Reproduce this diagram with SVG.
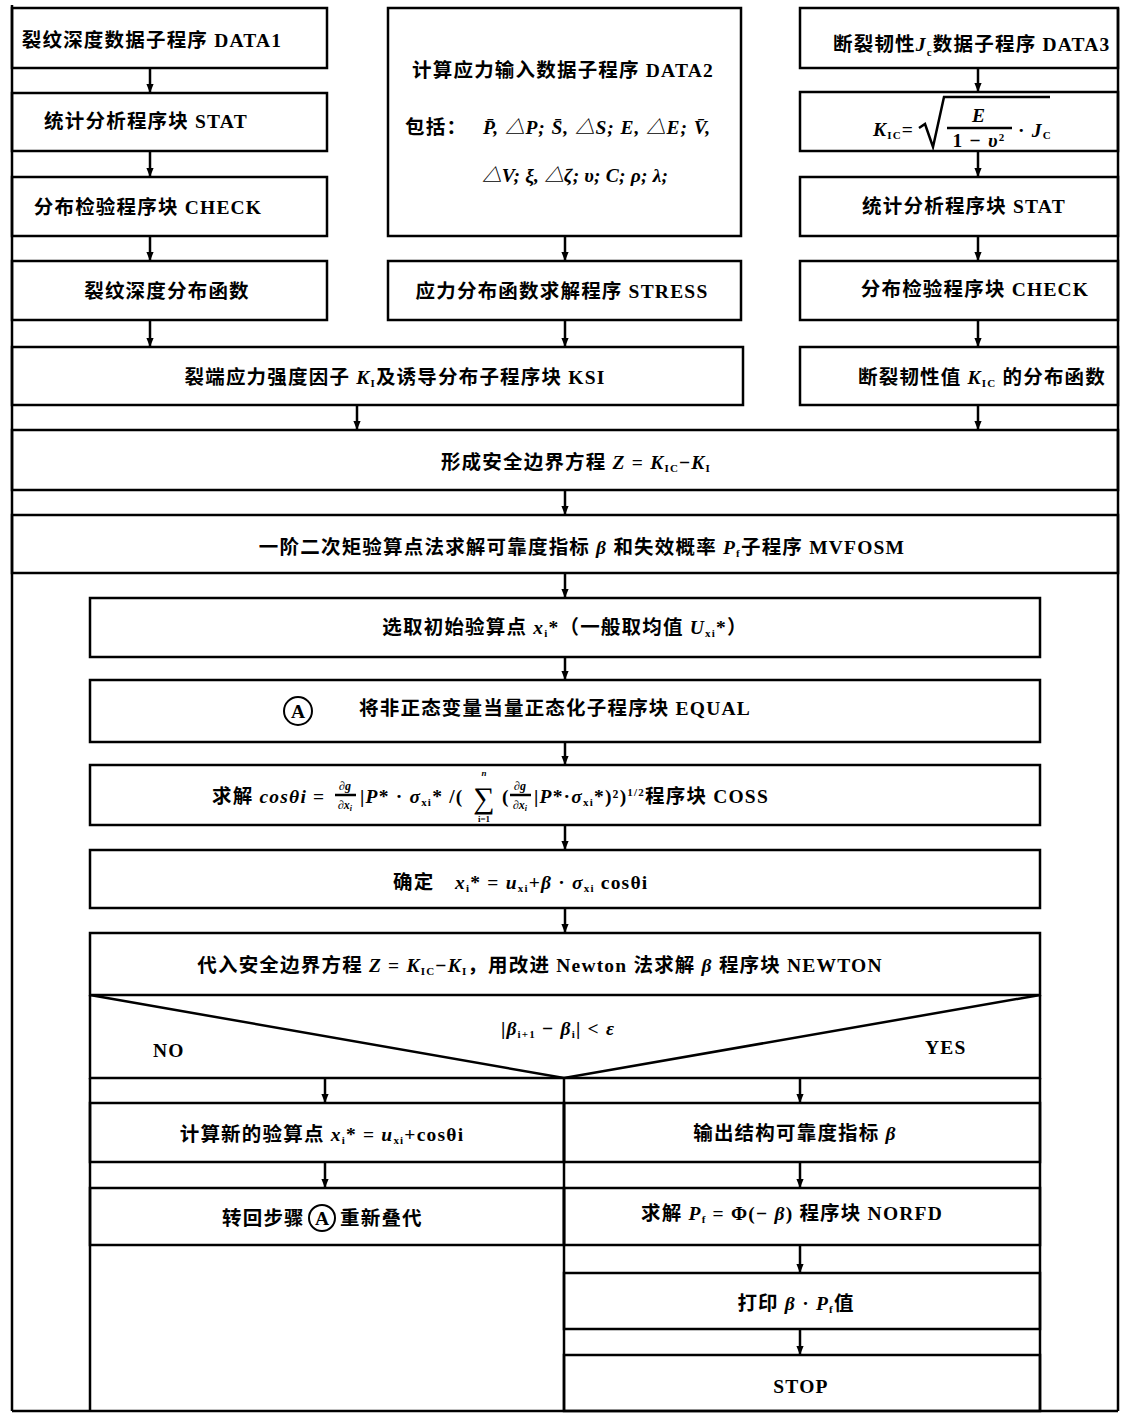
<svg xmlns="http://www.w3.org/2000/svg" width="1122" height="1413" viewBox="0 0 1122 1413">
<defs>
<style>
.box{fill:none;stroke:#000;stroke-width:2.5}
.ln{fill:none;stroke:#000;stroke-width:2.5}
.cn{fill:none;stroke:#000;stroke-width:2.5;marker-end:url(#ah)}
.t{font-family:"Liberation Serif","Noto Sans CJK SC",serif;font-weight:bold;font-size:19.5px;letter-spacing:1.2px;fill:#000}
.m{font-style:italic}
.s{font-size:11px;font-style:normal}
.f{font-family:"Liberation Serif",serif;font-weight:bold;font-style:italic;font-size:12px;fill:#000}
</style>
<marker id="ah" viewBox="0 0 10 10" refX="10" refY="5" markerWidth="9" markerHeight="9" markerUnits="userSpaceOnUse" orient="auto">
<path d="M0,1 L10,5 L0,9 z" fill="#000"/>
</marker>
</defs>
<rect width="1122" height="1413" fill="#fff"/>

<g id="frame">
<line class="ln" x1="12" y1="5" x2="12" y2="1411"/>
<line class="ln" x1="1118" y1="8" x2="1118" y2="1411"/>
<line class="ln" x1="12" y1="1411" x2="1118" y2="1411"/>
</g>

<g id="connectors">
<line class="cn" x1="150" y1="68" x2="150" y2="93"/>
<line class="cn" x1="150" y1="151" x2="150" y2="177"/>
<line class="cn" x1="150" y1="236" x2="150" y2="261"/>
<line class="cn" x1="150" y1="320" x2="150" y2="347"/>
<line class="cn" x1="565" y1="236" x2="565" y2="261"/>
<line class="cn" x1="565" y1="320" x2="565" y2="347"/>
<line class="cn" x1="978" y1="68" x2="978" y2="92"/>
<line class="cn" x1="978" y1="151" x2="978" y2="177"/>
<line class="cn" x1="978" y1="236" x2="978" y2="261"/>
<line class="cn" x1="978" y1="320" x2="978" y2="347"/>
<line class="cn" x1="357" y1="405" x2="357" y2="430"/>
<line class="cn" x1="978" y1="405" x2="978" y2="430"/>
<line class="cn" x1="565" y1="490" x2="565" y2="515"/>
<line class="cn" x1="565" y1="573" x2="565" y2="598"/>
<line class="cn" x1="565" y1="657" x2="565" y2="680"/>
<line class="cn" x1="565" y1="742" x2="565" y2="765"/>
<line class="cn" x1="565" y1="825" x2="565" y2="850"/>
<line class="cn" x1="565" y1="908" x2="565" y2="933"/>
<line class="cn" x1="325" y1="1078" x2="325" y2="1103"/>
<line class="cn" x1="325" y1="1162" x2="325" y2="1188"/>
<line class="cn" x1="800" y1="1078" x2="800" y2="1103"/>
<line class="cn" x1="800" y1="1162" x2="800" y2="1188"/>
<line class="cn" x1="800" y1="1245" x2="800" y2="1273"/>
<line class="cn" x1="800" y1="1329" x2="800" y2="1355"/>
</g>

<g id="n-data1"><rect class="box" x="12" y="8" width="315" height="60"/>
<text class="t" x="152" y="47" text-anchor="middle">裂纹深度数据子程序 DATA1</text></g>
<g id="n-stat1"><rect class="box" x="12" y="93" width="315" height="58"/>
<text class="t" x="146" y="128" text-anchor="middle">统计分析程序块 STAT</text></g>
<g id="n-check1"><rect class="box" x="12" y="177" width="315" height="59"/>
<text class="t" x="148" y="214" text-anchor="middle">分布检验程序块 CHECK</text></g>
<g id="n-crackdist"><rect class="box" x="12" y="261" width="315" height="59"/>
<text class="t" x="167" y="298" text-anchor="middle">裂纹深度分布函数</text></g>

<g id="n-data2"><rect class="box" x="388" y="8" width="353" height="228"/>
<text class="t" x="563" y="77" text-anchor="middle">计算应力输入数据子程序 DATA2</text>
<text class="t" x="405" y="134">包括：</text>
<text class="t m" x="483" y="134" textLength="227" lengthAdjust="spacing" style="letter-spacing:0">P̄, △P; S̄, △S; E, △E; V̄,</text>
<text class="t m" x="482" y="182" textLength="186" lengthAdjust="spacing" style="letter-spacing:0">△V; ξ, △ζ; υ; C; ρ; λ;</text></g>
<g id="n-stress"><rect class="box" x="388" y="261" width="353" height="59"/>
<text class="t" x="562" y="298" text-anchor="middle">应力分布函数求解程序 STRESS</text></g>

<g id="n-data3"><rect class="box" x="800" y="8" width="318" height="60"/>
<text class="t" x="833" y="51">断裂韧性<tspan class="m">J</tspan><tspan class="s" dy="5">c</tspan><tspan dy="-5">数据子程序 DATA3</tspan></text></g>
<g id="n-kic"><rect class="box" x="800" y="92" width="318" height="59"/>
<text class="t" x="873" y="136"><tspan class="m">K</tspan><tspan class="s" dy="3">IC</tspan><tspan dy="-3">=</tspan></text>
<path class="ln" stroke-width="2" d="M919,128 L925,124 L933,147 L944,97 L1050,97"/>
<text class="t m" x="979" y="122" text-anchor="middle">E</text>
<line class="ln" stroke-width="2" x1="947" y1="128" x2="1012" y2="128"/>
<text class="t" x="979" y="147" text-anchor="middle">1 − <tspan class="m">υ</tspan><tspan class="s" dy="-6">2</tspan></text>
<text class="t" x="1018" y="137">· <tspan class="m">J</tspan><tspan class="s" dy="2">C</tspan></text></g>
<g id="n-stat3"><rect class="box" x="800" y="177" width="318" height="59"/>
<text class="t" x="964" y="213" text-anchor="middle">统计分析程序块 STAT</text></g>
<g id="n-check3"><rect class="box" x="800" y="261" width="318" height="59"/>
<text class="t" x="975" y="296" text-anchor="middle">分布检验程序块 CHECK</text></g>

<g id="n-ksi"><rect class="box" x="12" y="347" width="731" height="58"/>
<text class="t" x="395" y="384" text-anchor="middle">裂端应力强度因子 <tspan class="m">K</tspan><tspan class="s" dy="3">I</tspan><tspan dy="-3">及诱导分布子程序块 KSI</tspan></text></g>
<g id="n-kicdist"><rect class="box" x="800" y="347" width="318" height="58"/>
<text class="t" x="858" y="384">断裂韧性值 <tspan class="m">K</tspan><tspan class="s" dy="3">IC</tspan><tspan dy="-3"> 的分布函数</tspan></text></g>

<g id="n-limit"><rect class="box" x="12" y="430" width="1106" height="60"/>
<text class="t" x="576" y="469" text-anchor="middle">形成安全边界方程 <tspan class="m">Z</tspan> = <tspan class="m">K</tspan><tspan class="s" dy="3">IC</tspan><tspan dy="-3">−</tspan><tspan class="m">K</tspan><tspan class="s" dy="3">I</tspan></text></g>
<g id="n-mvfosm"><rect class="box" x="12" y="515" width="1106" height="58"/>
<text class="t" x="582" y="554" text-anchor="middle">一阶二次矩验算点法求解可靠度指标 <tspan class="m">β</tspan> 和失效概率 <tspan class="m">P</tspan><tspan class="s" dy="3">f</tspan><tspan dy="-3">子程序 MVFOSM</tspan></text></g>

<g id="n-init"><rect class="box" x="90" y="598" width="950" height="59"/>
<text class="t" x="565" y="634" text-anchor="middle">选取初始验算点 <tspan class="m">x</tspan><tspan class="s" dy="3">i</tspan><tspan dy="-3">*（一般取均值 </tspan><tspan class="m">U</tspan><tspan class="s" dy="3">xi</tspan><tspan dy="-3">*）</tspan></text></g>
<g id="n-equal"><rect class="box" x="90" y="680" width="950" height="62"/>
<circle cx="298" cy="711" r="14" fill="none" stroke="#000" stroke-width="2"/>
<text class="t" x="298" y="718" text-anchor="middle" style="letter-spacing:0">A</text>
<text class="t" x="555" y="715" text-anchor="middle">将非正态变量当量正态化子程序块 EQUAL</text></g>

<g id="n-coss"><rect class="box" x="90" y="765" width="950" height="60"/>
<text class="t" x="212" y="803">求解 <tspan class="m">cosθi</tspan> =</text>
<text class="f" x="345" y="790" text-anchor="middle">∂g</text>
<line class="ln" stroke-width="1.5" x1="335" y1="795" x2="356" y2="795"/>
<text class="f" x="345" y="809" text-anchor="middle">∂x<tspan font-size="8" dy="2">i</tspan></text>
<text class="t" x="360" y="803">|<tspan class="m">P</tspan>* · <tspan class="m">σ</tspan><tspan class="s" dy="3">xi</tspan><tspan dy="-3">* /(</tspan></text>
<text class="t" x="484" y="808" text-anchor="middle" style="font-size:30px;font-weight:normal;letter-spacing:0">∑</text>
<text class="f" x="484" y="776" text-anchor="middle" style="font-size:9px">n</text>
<text class="f" x="484" y="822" text-anchor="middle" style="font-size:9px;font-style:normal">i=1</text>
<text class="t" x="502" y="803">(</text>
<text class="f" x="520" y="790" text-anchor="middle">∂g</text>
<line class="ln" stroke-width="1.5" x1="510" y1="795" x2="531" y2="795"/>
<text class="f" x="520" y="809" text-anchor="middle">∂x<tspan font-size="8" dy="2">i</tspan></text>
<text class="t" x="534" y="803">|<tspan class="m">P</tspan>*·<tspan class="m">σ</tspan><tspan class="s" dy="3">xi</tspan><tspan dy="-3">*)²)</tspan><tspan class="s" dy="-7">1/2</tspan><tspan dy="7">程序块 COSS</tspan></text></g>

<g id="n-update"><rect class="box" x="90" y="850" width="950" height="58"/>
<text class="t" x="393" y="889">确定</text>
<text class="t" x="455" y="889"><tspan class="m">x</tspan><tspan class="s" dy="3">i</tspan><tspan dy="-3">* = </tspan><tspan class="m">u</tspan><tspan class="s" dy="3">xi</tspan><tspan dy="-3">+</tspan><tspan class="m">β</tspan> · <tspan class="m">σ</tspan><tspan class="s" dy="3">xi</tspan><tspan dy="-3"> cosθi</tspan></text></g>

<g id="n-newton"><rect class="box" x="90" y="933" width="950" height="62"/>
<text class="t" x="540" y="972" text-anchor="middle">代入安全边界方程 <tspan class="m">Z</tspan> = <tspan class="m">K</tspan><tspan class="s" dy="3">IC</tspan><tspan dy="-3">−</tspan><tspan class="m">K</tspan><tspan class="s" dy="3">I</tspan><tspan dy="-3">，用改进 Newton 法求解 </tspan><tspan class="m">β</tspan> 程序块 NEWTON</text></g>

<g id="n-decision">
<path class="ln" d="M90,995 L90,1078 L1040,1078 L1040,995"/>
<path class="ln" d="M90,995 L564,1078 L1040,995"/>
<text class="t" x="558" y="1035" text-anchor="middle">|<tspan class="m">β</tspan><tspan class="s" dy="3">i+1</tspan><tspan dy="-3"> − </tspan><tspan class="m">β</tspan><tspan class="s" dy="3">i</tspan><tspan dy="-3">| &lt; </tspan><tspan class="m">ε</tspan></text>
<text class="t" x="153" y="1057">NO</text>
<text class="t" x="925" y="1054">YES</text></g>

<g id="lower-frame">
<line class="ln" x1="90" y1="1078" x2="90" y2="1411"/>
<line class="ln" x1="564" y1="1078" x2="564" y2="1411"/>
<line class="ln" x1="1040" y1="1078" x2="1040" y2="1411"/>
</g>

<g id="n-newpoint"><rect class="box" x="90" y="1103" width="474" height="59"/>
<text class="t" x="322" y="1141" text-anchor="middle">计算新的验算点 <tspan class="m">x</tspan><tspan class="s" dy="3">i</tspan><tspan dy="-3">* = </tspan><tspan class="m">u</tspan><tspan class="s" dy="3">xi</tspan><tspan dy="-3">+cosθi</tspan></text></g>
<g id="n-goto"><rect class="box" x="90" y="1188" width="474" height="57"/>
<text class="t" x="222" y="1225">转回步骤</text>
<circle cx="322" cy="1218" r="13" fill="none" stroke="#000" stroke-width="2"/>
<text class="t" x="322" y="1225" text-anchor="middle" style="letter-spacing:0">A</text>
<text class="t" x="340" y="1225">重新叠代</text></g>

<g id="n-output"><rect class="box" x="564" y="1103" width="476" height="59"/>
<text class="t" x="795" y="1140" text-anchor="middle">输出结构可靠度指标 <tspan class="m">β</tspan></text></g>
<g id="n-norfd"><rect class="box" x="564" y="1188" width="476" height="57"/>
<text class="t" x="792" y="1220" text-anchor="middle">求解 <tspan class="m">P</tspan><tspan class="s" dy="3">f</tspan><tspan dy="-3"> = Φ(− </tspan><tspan class="m">β</tspan>) 程序块 NORFD</text></g>
<g id="n-print"><rect class="box" x="564" y="1273" width="476" height="56"/>
<text class="t" x="796" y="1310" text-anchor="middle">打印 <tspan class="m">β</tspan> · <tspan class="m">P</tspan><tspan class="s" dy="3">f</tspan><tspan dy="-3">值</tspan></text></g>
<g id="n-stop"><rect class="box" x="564" y="1355" width="476" height="56"/>
<text class="t" x="801" y="1393" text-anchor="middle">STOP</text></g>
</svg>
